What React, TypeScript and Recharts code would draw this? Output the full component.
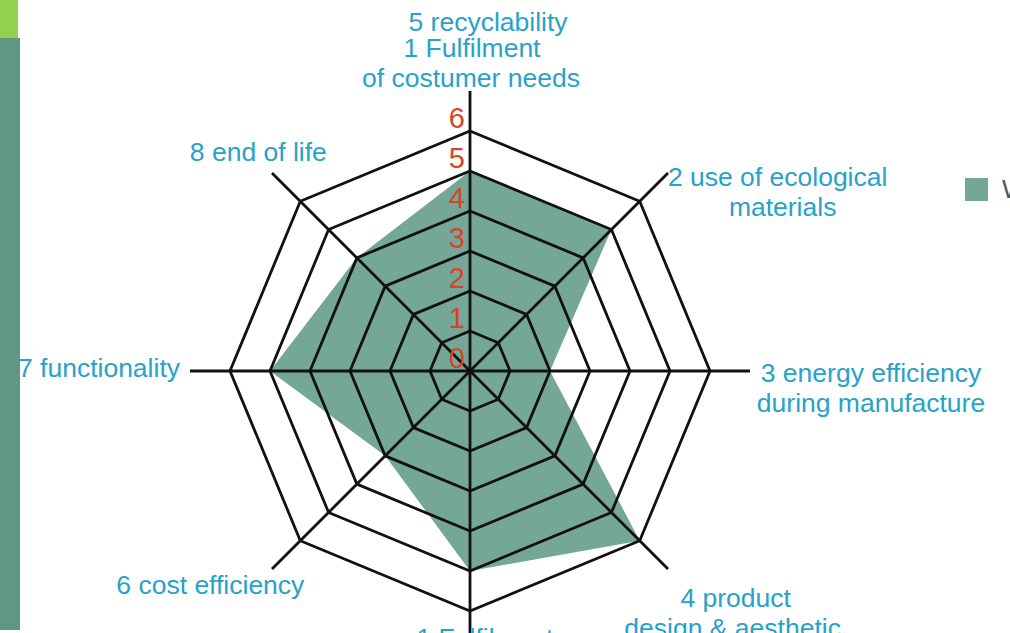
import { RadarChart, Radar, PolarGrid, PolarAngleAxis, PolarRadiusAxis } from 'recharts';

const axisIds = ['a1', 'a2', 'a3', 'a4', 'a5', 'a6', 'a7', 'a8'];
const scores = [5, 5, 2, 6, 5, 3, 5, 4];
const ringValues = [1, 2, 3, 4, 5, 6];
const scaleTicks = [0, 1, 2, 3, 4, 5, 6];
const axisLabels = [
    ['5 recyclability', '1 Fulfilment', 'of costumer needs'],
    ['2 use of ecological', 'materials'],
    ['3 energy efficiency', 'during manufacture'],
    ['4 product', 'design & aesthetic'],
    ['1 Fulfilment', 'of costumer needs'],
    ['6 cost efficiency'],
    ['7 functionality'],
    ['8 end of life'],
];
const legendName = 'Wert';

// label offsets from the tick point: [dx per line], [dy per line], anchor
const labelLayout: { dx: number[]; dy: number[]; anchor: 'start' | 'middle' | 'end' }[] = [
    { dx: [18, 2, 1], dy: [-61, -35, -5], anchor: 'middle' },
    { dx: [104, 109], dy: [10, 40], anchor: 'middle' },
    { dx: [113, 113], dy: [2, 32], anchor: 'middle' },
    { dx: [62, 59], dy: [23, 53], anchor: 'middle' },
    { dx: [15, 15], dy: [-21, 9], anchor: 'middle' },
    { dx: [-56], dy: [10], anchor: 'middle' },
    { dx: [-2], dy: [-3], anchor: 'end' },
    { dx: [-8], dy: [-15], anchor: 'middle' },
];

const data = axisIds.map((id, i) => ({ axis: id, score: scores[i] }));

const FONT = '"Liberation Sans", Arial, sans-serif';
const CX = 470;
const CY = 371;
const OUTER = 280;
const MAX = 7;
const UNIT = OUTER / MAX;
const FILL = '#74a797';

function AngleTick(props: any) {
    const { x, y, index } = props;
    const lines = axisLabels[index];
    const lay = labelLayout[index];
    return (
        <g>
            {lines.map((line, i) => (
                <text
                    key={i}
                    x={x + lay.dx[i]}
                    y={y + lay.dy[i]}
                    textAnchor={lay.anchor}
                    dominantBaseline="central"
                    fontFamily={FONT}
                    fontSize={26.5}
                    fill="#27a2c8"
                >
                    {line}
                </text>
            ))}
        </g>
    );
}

function RadiusTick(props: any) {
    const { x, y, payload } = props;
    return (
        <text
            x={x - 5}
            y={y - 13}
            textAnchor="end"
            dominantBaseline="central"
            fontFamily={FONT}
            fontSize={29}
            fill="#d9432b"
        >
            {payload.value}
        </text>
    );
}

export default function App() {
    const chartProps = {
        width: 1010,
        height: 700,
        data,
        cx: CX,
        cy: CY,
        outerRadius: OUTER,
        margin: { top: 0, right: 0, bottom: 0, left: 0 },
    };

    return (
        <div style={{ position: 'absolute', left: 0, top: 0, width: 1010, height: 633, overflow: 'hidden', background: '#fff' }}>
            <div style={{ position: 'absolute', left: 0, top: 0, width: 18, height: 38, background: '#92d050' }} />
            <div style={{ position: 'absolute', left: 0, top: 38, width: 20, height: 592, background: '#5e9784' }} />

            <div style={{ position: 'absolute', left: 0, top: 0 }}>
                <RadarChart {...chartProps}>
                    <PolarAngleAxis dataKey="axis" tick={false} axisLine={false} tickLine={false} />
                    <PolarRadiusAxis angle={90} domain={[0, MAX]} tick={false} axisLine={false} />
                    <Radar dataKey="score" fill={FILL} fillOpacity={1} stroke="none" isAnimationActive={false} />
                </RadarChart>
            </div>

            <div style={{ position: 'absolute', left: 0, top: 0 }}>
                <RadarChart {...chartProps}>
                    <PolarGrid
                        gridType="polygon"
                        polarRadius={ringValues.map((v) => v * UNIT)}
                        stroke="#111"
                        strokeWidth={2.8}
                        strokeOpacity={1}
                    />
                    <PolarAngleAxis dataKey="axis" tick={<AngleTick />} axisLine={false} tickLine={false} />
                    <PolarRadiusAxis
                        angle={90}
                        domain={[0, MAX]}
                        ticks={scaleTicks}
                        tickCount={8}
                        tick={<RadiusTick />}
                        axisLine={false}
                        tickLine={false}
                    />
                    <Radar dataKey="score" fill="none" stroke="none" isAnimationActive={false} />
                </RadarChart>
            </div>

            <div style={{ position: 'absolute', left: 965, top: 174, display: 'flex', alignItems: 'center' }}>
                <div style={{ width: 23, height: 23, background: FILL }} />
                <span style={{ marginLeft: 14, fontFamily: FONT, fontSize: 26, color: '#555', whiteSpace: 'nowrap' }}>
                    {legendName}
                </span>
            </div>
        </div>
    );
}
